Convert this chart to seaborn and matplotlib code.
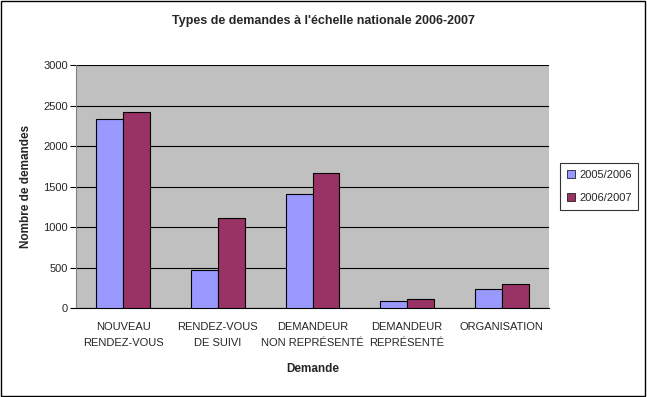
import matplotlib
matplotlib.use("Agg")
import matplotlib.pyplot as plt
import seaborn as sns
import pandas as pd
from matplotlib.patches import Rectangle

categories = ["NOUVEAU\nRENDEZ-VOUS", "RENDEZ-VOUS\nDE SUIVI", "DEMANDEUR\nNON REPRÉSENTÉ",
              "DEMANDEUR\nREPRÉSENTÉ", "ORGANISATION"]
series_names = ["2005/2006", "2006/2007"]
values_2005 = [2330, 473, 1406, 90, 238]
values_2006 = [2421, 1110, 1665, 115, 296]
yticks = [0, 500, 1000, 1500, 2000, 2500, 3000]

df = pd.DataFrame({
    "Demande": categories * 2,
    "Série": [series_names[0]] * len(categories) + [series_names[1]] * len(categories),
    "Valeur": values_2005 + values_2006,
})

sns.set_style("white")
plt.rcParams["font.family"] = ["Liberation Sans", "DejaVu Sans"]

fig = plt.figure(figsize=(6.47, 3.97), dpi=100)
ax = fig.add_axes([0.1175, 0.224, 0.731, 0.612])
ax.set_facecolor("#C0C0C0")

sns.barplot(data=df, x="Demande", y="Valeur", hue="Série", ax=ax,
            palette=["#9999FF", "#993366"], width=0.57, edgecolor="black",
            linewidth=0.8, saturation=1, dodge=True, zorder=3)

ax.set_ylim(0, 3000)
ax.set_xlim(-0.5, len(categories) - 0.5)
ax.set_yticks(yticks)
ax.set_yticklabels([str(t) for t in yticks], fontsize=8)
ax.yaxis.grid(True, color="black", linewidth=0.8, zorder=0)
ax.set_axisbelow(True)

ax.set_xticks(range(len(categories)))
ax.set_xticklabels(categories, fontsize=8, va="top", linespacing=1.75)
ax.tick_params(axis="x", which="major", length=0, pad=10)
ax.set_xticks([i - 0.5 for i in range(len(categories) + 1)], minor=True)
ax.tick_params(axis="x", which="minor", length=4, color="black", width=0.8, direction="out")
ax.tick_params(axis="y", length=4, color="black", width=0.8, direction="out", left=True, pad=2)

for side in ["top", "right"]:
    ax.spines[side].set_visible(False)
ax.spines["left"].set_color("#808080")
ax.spines["bottom"].set_color("black")
ax.spines["left"].set_linewidth(0.8)
ax.spines["bottom"].set_linewidth(0.8)

ax.set_xlabel("Demande", fontsize=8.5, fontweight="bold", labelpad=11)
ax.set_ylabel("Nombre de demandes", fontsize=8.5, fontweight="bold", labelpad=8)
fig.text(0.5, 0.948, "Types de demandes à l'échelle nationale 2006-2007",
         ha="center", va="center", fontsize=9, fontweight="bold")

leg = ax.legend(loc="center left", bbox_to_anchor=(1.012, 0.5), fontsize=8,
                frameon=True, fancybox=False, edgecolor="black", handlelength=0.7,
                handleheight=0.7, handletextpad=0.4, borderpad=0.6, labelspacing=1.2)
leg.get_frame().set_linewidth(0.8)
for h in leg.legend_handles:
    h.set_edgecolor("black")
    h.set_linewidth(0.5)

fig.patches.append(Rectangle((0.002, 0.003), 0.995, 0.994, transform=fig.transFigure,
                             fill=False, edgecolor="black", linewidth=1))

fig.savefig("out.png", dpi=100, facecolor="white")
